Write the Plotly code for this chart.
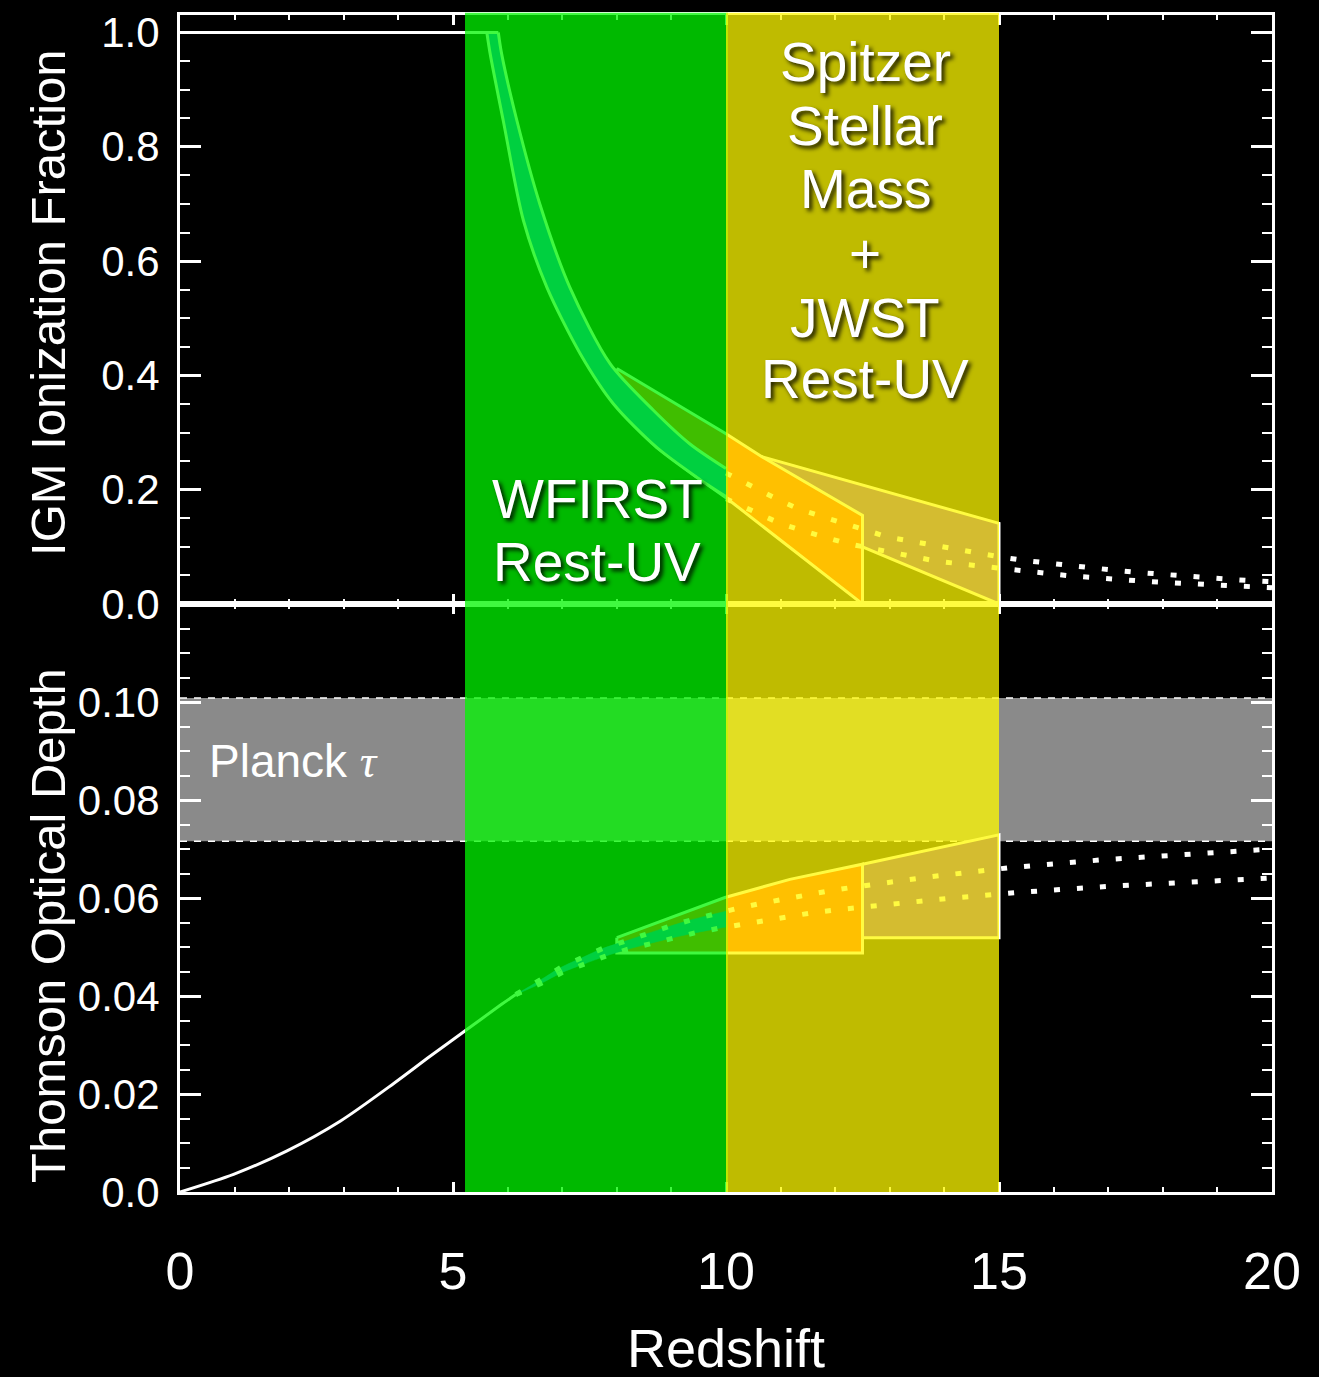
import plotly.graph_objects as go
from plotly.subplots import make_subplots

# ---------------- data ----------------
# redshift axis
X_RANGE = [0, 20]

# WFIRST / Spitzer+JWST redshift windows
WFIRST_Z = [5.22, 10.0]
JWST_Z = [10.0, 15.0]

# Planck tau band (bottom panel)
PLANCK_TAU = [0.0716, 0.1008]

# ---- top panel: IGM ionization fraction ----
ion_flat_z = [0.0, 5.83]
ion_flat_x = [1.0, 1.0]

ion_low_z = [5.62, 5.68, 5.92, 6.29, 6.72, 7.33, 7.94, 8.73, 9.46, 10.0]
ion_low_x = [1.0, 0.963, 0.846, 0.671, 0.554, 0.438, 0.350, 0.274, 0.222, 0.188]
ion_up_z = [5.83, 5.89, 6.17, 6.59, 7.14, 7.88, 8.67, 9.34, 10.0]
ion_up_x = [1.0, 0.963, 0.846, 0.700, 0.554, 0.420, 0.339, 0.280, 0.237]

# z<=12.5 constraint polygon (top)
ion_red_z = [8.0, 10.0, 10.65, 12.5, 12.5, 10.2, 10.0, 9.46, 8.73, 8.0, 8.0]
ion_red_x = [0.412, 0.298, 0.258, 0.155, 0.0, 0.172, 0.186, 0.222, 0.274, 0.345, 0.412]
# z<=15 constraint polygon (top)
ion_pur_z = [10.65, 15.0, 15.0, 12.5, 11.0, 10.65]
ion_pur_x = [0.258, 0.141, 0.0, 0.0995, 0.16, 0.258]

# dotted model lines (top)
ion_dot_up_z = [10.0, 10.2, 10.59, 10.99, 11.36, 11.75, 12.18, 12.58, 12.97, 13.37, 13.8, 14.22,
                14.65, 15.05, 15.48, 15.88, 16.31, 16.73, 17.16, 17.57, 17.99, 18.41, 18.83,
                19.26, 19.68, 20.0]
ion_dot_up_x = [0.229, 0.219, 0.1986, 0.181, 0.165, 0.154, 0.140, 0.1286, 0.117, 0.110, 0.1024,
                0.0954, 0.0896, 0.082, 0.076, 0.0714, 0.0668, 0.0627, 0.0586, 0.0551, 0.0516,
                0.0487, 0.0458, 0.0429, 0.0406, 0.039]
ion_dot_lo_z = [10.0, 10.23, 10.62, 10.99, 11.39, 11.78, 12.21, 12.61, 13.04, 13.43, 13.86, 14.29,
                14.71, 15.11, 15.54, 15.95, 16.37, 16.79, 17.22, 17.64, 18.06, 18.49, 18.91,
                19.34, 19.76, 20.0]
ion_dot_lo_x = [0.184, 0.174, 0.156, 0.141, 0.1286, 0.117, 0.106, 0.0983, 0.0896, 0.0819, 0.0749,
                0.0703, 0.0656, 0.0604, 0.0563, 0.0528, 0.0487, 0.0451, 0.0423, 0.0399, 0.0376,
                0.0353, 0.0329, 0.0311, 0.0294, 0.0285]

# ---- bottom panel: Thomson optical depth ----
tau_z = [0.0, 0.98, 1.96, 2.94, 3.92, 4.58, 5.21, 5.89, 6.15]
tau_v = [0.0, 0.0036, 0.0084, 0.0145, 0.0222, 0.0277, 0.0328, 0.0383, 0.0403]

tau_band_up_z = [6.15, 6.62, 6.97, 7.36, 7.74, 8.16, 8.55, 8.96, 9.35, 9.77, 10.0]
tau_band_up_v = [0.0403, 0.0434, 0.0458, 0.0478, 0.0497, 0.0512, 0.0527, 0.0542, 0.0555, 0.0567, 0.0573]
tau_band_lo_z = [6.15, 6.6, 7.0, 7.39, 7.81, 8.19, 8.6, 9.03, 9.44, 9.86, 10.0]
tau_band_lo_v = [0.0403, 0.0425, 0.0448, 0.0465, 0.0482, 0.0495, 0.0507, 0.0519, 0.0529, 0.0538, 0.0541]

tau_red_z = [8.0, 9.98, 11.17, 12.5, 12.5, 8.0, 8.0]
tau_red_v = [0.0519, 0.0601, 0.0638, 0.0669, 0.0488, 0.0488, 0.0519]
tau_pur_z = [12.5, 13.74, 15.0, 15.0, 12.5, 12.5]
tau_pur_v = [0.0669, 0.0699, 0.0729, 0.0519, 0.0519, 0.0669]

tau_dot_up_z = [6.15, 6.62, 6.97, 7.36, 7.74, 8.16, 8.55, 8.96, 9.35, 9.77, 10.18, 10.6, 11.02,
                11.44, 11.86, 12.27, 12.68, 13.1, 13.52, 13.95, 14.38, 14.8, 15.2, 16.9, 18.6,
                19.84, 20.0]
tau_dot_up_v = [0.0403, 0.0434, 0.0458, 0.0478, 0.0497, 0.0512, 0.0527, 0.0542, 0.0555, 0.0567,
                0.0578, 0.0588, 0.0597, 0.0606, 0.0614, 0.0621, 0.0628, 0.0635, 0.0640, 0.0646,
                0.0652, 0.0657, 0.0662, 0.0678, 0.0691, 0.0699, 0.0700]
tau_dot_lo_z = [6.15, 6.6, 7.0, 7.39, 7.81, 8.19, 8.6, 9.03, 9.44, 9.86, 10.28, 10.69, 11.12,
                11.53, 11.95, 12.37, 12.79, 13.21, 13.64, 14.05, 14.48, 14.9, 15.3, 17.03, 18.7,
                19.5, 20.0]
tau_dot_lo_v = [0.0403, 0.0425, 0.0448, 0.0465, 0.0482, 0.0495, 0.0507, 0.0519, 0.0529, 0.0538,
                0.0546, 0.0554, 0.0562, 0.0569, 0.0575, 0.0580, 0.0586, 0.0590, 0.0595, 0.0599,
                0.0603, 0.0608, 0.0611, 0.0624, 0.0635, 0.0638, 0.0641]

# ---------------- styles ----------------
WHITE = "white"
RED = "rgb(255,20,0)"
PURPLE = "rgb(84,4,192)"
BLUE = "rgb(0,92,255)"
GRAY = "rgb(138,138,138)"
GREEN_OV = "rgba(0,247,0,0.75)"
YELLOW_OV = "rgba(255,250,0,0.75)"
DOTS = "6px,17px"
FONT_AX = "Liberation Sans, Arial, sans-serif"
FONT_IN = "Liberation Sans, Arial, sans-serif"
SHADOW = "3px 3px 4px rgba(0,0,0,0.85)"

fig = make_subplots(rows=2, cols=1, shared_xaxes=True, vertical_spacing=0,
                    row_heights=[589, 588])


def poly(z, v, color, row):
    fig.add_trace(go.Scatter(x=z, y=v, mode="lines", fill="toself", fillcolor=color,
                             line=dict(color=WHITE, width=3), hoverinfo="skip",
                             showlegend=False), row=row, col=1)


def line(z, v, row, dash=None, width=3, shape="linear", fill=None, color=WHITE):
    fig.add_trace(go.Scatter(x=z, y=v, mode="lines", fill=fill, fillcolor=BLUE,
                             line=dict(color=color, width=width, dash=dash, shape=shape,
                                       smoothing=0.8),
                             hoverinfo="skip", showlegend=False), row=row, col=1)


# top panel
poly(ion_pur_z, ion_pur_x, PURPLE, 1)
poly(ion_red_z, ion_red_x, RED, 1)
line(ion_low_z, ion_low_x, 1, shape="spline")
line(ion_up_z, ion_up_x, 1, shape="spline", fill="tonexty")
line(ion_flat_z, ion_flat_x, 1)
line(ion_dot_up_z, ion_dot_up_x, 1, dash=DOTS, width=5)
line(ion_dot_lo_z, ion_dot_lo_x, 1, dash=DOTS, width=5)

# bottom panel
poly(tau_pur_z, tau_pur_v, PURPLE, 2)
poly(tau_red_z, tau_red_v, RED, 2)
line(tau_band_lo_z, tau_band_lo_v, 2, shape="spline", width=0.5, color=BLUE)
line(tau_band_up_z, tau_band_up_v, 2, shape="spline", width=0.5, color=BLUE, fill="tonexty")
line(tau_z, tau_v, 2, shape="spline")
line(tau_dot_up_z, tau_dot_up_v, 2, dash=DOTS, width=5)
line(tau_dot_lo_z, tau_dot_lo_v, 2, dash=DOTS, width=5)

# Planck band + dashed edges
fig.add_shape(type="rect", xref="x2", yref="y2", x0=X_RANGE[0], x1=X_RANGE[1],
              y0=PLANCK_TAU[0], y1=PLANCK_TAU[1], fillcolor=GRAY, line=dict(width=0),
              layer="below")
for t in PLANCK_TAU:
    fig.add_shape(type="line", xref="x2", yref="y2", x0=X_RANGE[0], x1=X_RANGE[1],
                  y0=t, y1=t, line=dict(color=WHITE, width=1.5, dash="7px,7px"),
                  layer="below")

# translucent survey windows over both panels
fig.add_shape(type="rect", xref="x", yref="paper", x0=WFIRST_Z[0], x1=WFIRST_Z[1] + 0.035,
              y0=0, y1=1.002, fillcolor=GREEN_OV, line=dict(width=0), layer="above")
fig.add_shape(type="rect", xref="x", yref="paper", x0=JWST_Z[0], x1=JWST_Z[1],
              y0=0, y1=1.002, fillcolor=YELLOW_OV, line=dict(width=0), layer="above")

# axes
xcommon = dict(range=X_RANGE, tick0=0, dtick=5, ticks="inside", ticklen=10, tickwidth=3,
               tickcolor=WHITE, showline=True, linecolor=WHITE, linewidth=3, mirror="ticks",
               showgrid=False, zeroline=False, automargin=False,
               minor=dict(tick0=0, dtick=1, ticks="inside", ticklen=5, tickwidth=2,
                          tickcolor=WHITE, showgrid=False))
fig.update_xaxes(**xcommon)
fig.update_xaxes(showticklabels=False, row=1, col=1)
fig.update_xaxes(showticklabels=True, tickfont=dict(family=FONT_AX, size=52, color=WHITE),
                 ticklabelstandoff=32, row=2, col=1)

ycommon = dict(ticks="inside", ticklen=21, tickwidth=3, tickcolor=WHITE, showline=True,
               linecolor=WHITE, linewidth=3, mirror="ticks", showgrid=False, zeroline=False,
               automargin=False,
               tickfont=dict(family=FONT_AX, size=42, color=WHITE), ticklabelstandoff=9)
fig.update_yaxes(**ycommon)
fig.update_yaxes(range=[0, 1.0306], tick0=0, dtick=0.2, tickformat=".1f",
                 minor=dict(tick0=0, dtick=0.05, ticks="inside", ticklen=10, tickwidth=2,
                            tickcolor=WHITE, showgrid=False), row=1, col=1)
fig.update_yaxes(range=[0, 0.12], tick0=0, dtick=0.02, tickformat=".2f",
                 labelalias={"0.00": "0.0", "0.12": " "},
                 minor=dict(tick0=0, dtick=0.005, ticks="inside", ticklen=10, tickwidth=2,
                            tickcolor=WHITE, showgrid=False), row=2, col=1)

# text
ann = []


def txt(text, x, y, size, xref="x", yref="y", xanchor="center", font=FONT_IN, shadow=SHADOW,
        angle=0):
    f = dict(family=font, size=size, color=WHITE)
    if shadow:
        f["shadow"] = shadow
    ann.append(dict(text=text, x=x, y=y, xref=xref, yref=yref, xanchor=xanchor,
                    yanchor="middle", showarrow=False, font=f, textangle=angle))


txt("WFIRST", 7.64, 0.183, 55)
txt("Rest-UV", 7.64, 0.073, 55)
for label, yy in zip(["Spitzer", "Stellar", "Mass", "+", "JWST", "Rest-UV"],
                     [0.949, 0.837, 0.727, 0.613, 0.501, 0.393]):
    txt(label, 12.55, yy, 55)
txt("Planck <span style='font-family:Liberation Serif, DejaVu Serif, serif'><i>τ</i></span>",
    0.49, 0.088, 46, xref="x2", yref="y2", xanchor="left", font=FONT_AX, shadow=None)

txt("IGM Ionization Fraction", -0.1209, 0.7562, 49, xref="paper", yref="paper",
    font=FONT_AX, shadow=None, angle=-90)
txt("Thomson Optical Depth", -0.1209, 0.2268, 49, xref="paper", yref="paper",
    font=FONT_AX, shadow=None, angle=-90)
txt("Redshift", 0.5, -0.1325, 54, xref="paper", yref="paper", font=FONT_AX, shadow=None)

fig.update_layout(width=1319, height=1377, paper_bgcolor="black", plot_bgcolor="black",
                  margin=dict(l=180, r=47, t=15, b=185), showlegend=False,
                  annotations=ann)

fig.write_html("out.html")
